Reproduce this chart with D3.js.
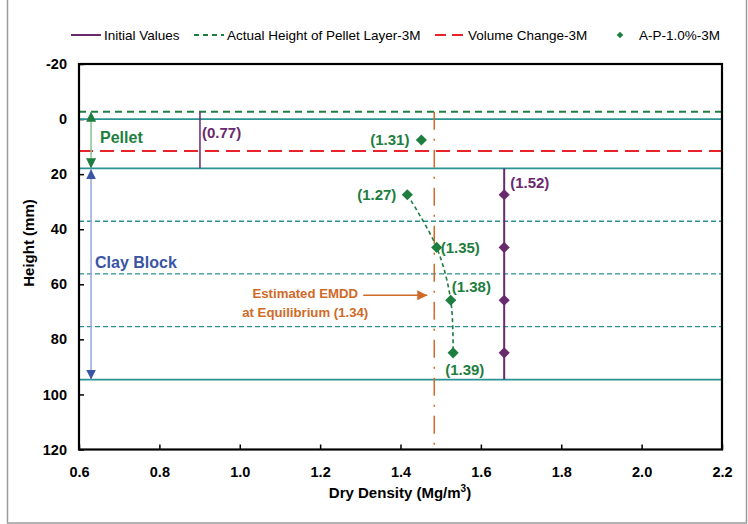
<!DOCTYPE html>
<html lang="en">
<head>
<meta charset="utf-8">
<title>Dry density profile</title>
<script src="https://cdn.jsdelivr.net/npm/d3@7"></script>
<style>
  body { margin: 0; background: #fff; }
  svg text { font-family: "Liberation Sans", Arial, sans-serif; }
</style>
</head>
<body>
<div id="chart"></div>
<script>
// axis ranges and ticks
var xTicks = [0.6, 0.8, 1.0, 1.2, 1.4, 1.6, 1.8, 2.0, 2.2];
var yTicks = [-20, 0, 20, 40, 60, 80, 100, 120];

// layer boundaries (mm)
var pelletTop = -2.7;       // actual height of pellet layer
var pelletBase = 0;
var clayTop = 17.9;
var clayBottom = 94.6;
var clayDivisions = [37.1, 56.25, 75.4];
var volumeChange = 11.6;

// initial values
var initPelletX = 0.901;
var initPelletLabel = "(0.77)";
var initClayX = 1.658;
var initClayDepths = [27.5, 46.6, 65.8, 84.9];
var initClayLabel = "(1.52)";

// A-P-1.0%-3M measured points
var apDepths = [7.6, 27.5, 46.6, 65.8, 84.9];
var apX = [1.452, 1.417, 1.490, 1.525, 1.531];
var apLabels = ["(1.31)", "(1.27)", "(1.35)", "(1.38)", "(1.39)"];

// estimated EMDD at equilibrium
var emddX = 1.484;
var emddArrowDepth = 64;

var legendNames = ["Initial Values", "Actual Height of Pellet Layer-3M", "Volume Change-3M", "A-P-1.0%-3M"];

var purple = "#6a2a6e", green = "#1e7e40", teal = "#2a9292", red = "#e8232a",
    orange = "#d06a28", blue = "#3a55a4";

var width = 748, height = 524;
var svg = d3.select("#chart").append("svg").attr("width", width).attr("height", height);

// outer chart border
svg.append("rect").attr("x", 7.5).attr("y", -5).attr("width", 739).attr("height", 528)
  .attr("fill", "none").attr("stroke", "#9a9a9a").attr("stroke-width", 1.5);

var x = d3.scaleLinear().domain([0.6, 2.2]).range([79, 722]);
var y = d3.scaleLinear().domain([-20, 120]).range([64, 449.5]);

var defs = svg.append("defs");
function marker(id, color) {
  defs.append("marker").attr("id", id).attr("viewBox", "0 0 10 10")
    .attr("refX", 10).attr("refY", 5).attr("markerWidth", 10).attr("markerHeight", 10)
    .attr("markerUnits", "userSpaceOnUse").attr("orient", "auto-start-reverse")
    .append("path").attr("d", "M0,0L10,5L0,10Z").attr("fill", color);
}
marker("arrGreen", green);
marker("arrBlue", blue);
marker("arrOrange", orange);

// axes
var xAxis = d3.axisBottom(x).tickValues(xTicks).tickSize(-5).tickPadding(17).tickFormat(d3.format(".1f"));
var yAxis = d3.axisLeft(y).tickValues(yTicks).tickSize(-5).tickPadding(12)
  .tickFormat(function (d) { return String(d); });

var gx = svg.append("g").attr("transform", "translate(0," + y(120) + ")").call(xAxis);
var gy = svg.append("g").attr("transform", "translate(" + x(0.6) + ",0)").call(yAxis);
[gx, gy].forEach(function (g) {
  g.select(".domain").remove();
  g.selectAll(".tick line").attr("stroke", "#000").attr("stroke-width", 1.5);
  g.selectAll("text").attr("font-size", 14.5).attr("font-weight", "bold").attr("fill", "#000")
    .style("font-family", "'Liberation Sans', Arial, sans-serif");
});

// horizontal layer lines
function hline(v, color, w, dash) {
  svg.append("line").attr("x1", x(0.6)).attr("x2", x(2.2)).attr("y1", y(v)).attr("y2", y(v))
    .attr("stroke", color).attr("stroke-width", w).attr("stroke-dasharray", dash || null);
}
hline(pelletBase, teal, 1.8);
hline(clayTop, teal, 1.8);
hline(clayBottom, teal, 1.8);
clayDivisions.forEach(function (d) { hline(d, teal, 1.3, "5,3"); });
hline(pelletTop, green, 2, "7,5");
hline(volumeChange, red, 2, "14,7");

// EMDD vertical dash-dot line
svg.append("line").attr("x1", x(emddX)).attr("x2", x(emddX)).attr("y1", y(pelletTop)).attr("y2", y(120))
  .attr("stroke", orange).attr("stroke-width", 1.5).attr("stroke-dasharray", "18,9,2,9");

// initial value lines
svg.append("line").attr("x1", x(initPelletX)).attr("x2", x(initPelletX))
  .attr("y1", y(pelletTop)).attr("y2", y(clayTop)).attr("stroke", purple).attr("stroke-width", 1.5);
svg.append("line").attr("x1", x(initClayX)).attr("x2", x(initClayX))
  .attr("y1", y(clayTop)).attr("y2", y(clayBottom)).attr("stroke", purple).attr("stroke-width", 2);

var diamond = d3.symbol().type(d3.symbolSquare).size(62);
svg.selectAll(".initpt").data(initClayDepths).enter().append("path")
  .attr("d", diamond)
  .attr("transform", function (d) { return "translate(" + x(initClayX) + "," + y(d) + ") rotate(45)"; })
  .attr("fill", purple);

// A-P curve
var pts = apDepths.map(function (d, i) { return [apX[i], d]; });
var line = d3.line().x(function (d) { return x(d[0]); }).y(function (d) { return y(d[1]); })
  .curve(d3.curveCatmullRom);
svg.append("path").attr("d", line(pts.slice(1))).attr("fill", "none")
  .attr("stroke", green).attr("stroke-width", 1.6).attr("stroke-dasharray", "4,3");
svg.selectAll(".appt").data(pts).enter().append("path")
  .attr("d", diamond)
  .attr("transform", function (d) { return "translate(" + x(d[0]) + "," + y(d[1]) + ") rotate(45)"; })
  .attr("fill", green);

// data labels
var apOffsets = [[-12, 5, "end"], [-11, 5, "end"], [4, 6, "start"], [1, -8, "start"], [-8, 22, "start"]];
apLabels.forEach(function (t, i) {
  svg.append("text").attr("x", x(apX[i]) + apOffsets[i][0]).attr("y", y(apDepths[i]) + apOffsets[i][1])
    .attr("text-anchor", apOffsets[i][2]).attr("font-size", 15).attr("font-weight", "bold")
    .attr("fill", green).text(t);
});
svg.append("text").attr("x", x(initPelletX) + 2).attr("y", y(7.0))
  .attr("font-size", 15).attr("font-weight", "bold").attr("fill", purple).text(initPelletLabel);
svg.append("text").attr("x", x(initClayX) + 6).attr("y", y(initClayDepths[0]) - 7)
  .attr("font-size", 15).attr("font-weight", "bold").attr("fill", purple).text(initClayLabel);

// layer arrows on left
var ax = x(0.63);
svg.append("line").attr("x1", ax).attr("x2", ax).attr("y1", y(pelletTop)).attr("y2", y(clayTop))
  .attr("stroke", "#86c595").attr("stroke-width", 1.5)
  .attr("marker-start", "url(#arrGreen)").attr("marker-end", "url(#arrGreen)");
svg.append("line").attr("x1", ax).attr("x2", ax).attr("y1", y(clayTop) + 1).attr("y2", y(clayBottom))
  .attr("stroke", "#96a6da").attr("stroke-width", 1.5)
  .attr("marker-start", "url(#arrBlue)").attr("marker-end", "url(#arrBlue)");
svg.append("text").attr("x", ax + 9).attr("y", y(8.8)).attr("font-size", 16).attr("font-weight", "bold")
  .attr("fill", green).text("Pellet");
svg.append("text").attr("x", ax + 4).attr("y", y(54.1)).attr("font-size", 16).attr("font-weight", "bold")
  .attr("fill", blue).text("Clay Block");

// EMDD annotation
var arrowEnd = x(emddX) - 7, arrowStart = arrowEnd - 64;
svg.append("line").attr("x1", arrowStart).attr("x2", arrowEnd)
  .attr("y1", y(emddArrowDepth)).attr("y2", y(emddArrowDepth))
  .attr("stroke", orange).attr("stroke-width", 1.5).attr("marker-end", "url(#arrOrange)");
var etx = arrowStart - 58;
var et = svg.append("text").attr("x", etx).attr("y", y(emddArrowDepth) + 3)
  .attr("text-anchor", "middle").attr("font-size", 13.2).attr("font-weight", "bold").attr("fill", orange);
et.append("tspan").attr("x", etx).text("Estimated EMDD");
et.append("tspan").attr("x", etx).attr("dy", 19).text("at Equilibrium (1.34)");

// plot frame
svg.append("rect").attr("x", x(0.6)).attr("y", y(-20)).attr("width", x(2.2) - x(0.6))
  .attr("height", y(120) - y(-20)).attr("fill", "none").attr("stroke", "#000").attr("stroke-width", 2.2);

// axis titles
var xt = svg.append("text").attr("x", 400).attr("y", 498).attr("text-anchor", "middle")
  .attr("font-size", 15).attr("font-weight", "bold");
xt.append("tspan").text("Dry Density (Mg/m");
xt.append("tspan").attr("font-size", 10).attr("dy", -6).text("3");
xt.append("tspan").attr("dy", 6).text(")");
svg.append("text").attr("transform", "translate(34," + 243 + ") rotate(-90)")
  .attr("text-anchor", "middle").attr("font-size", 15).attr("font-weight", "bold").text("Height (mm)");

// legend
var legendX = [71, 194, 435, 620];
var legendW = [30, 30, 30, 0];
var lg = svg.append("g").attr("transform", "translate(0,35)");
legendNames.forEach(function (n, i) {
  if (i === 0) lg.append("line").attr("x1", legendX[i]).attr("x2", legendX[i] + legendW[i])
    .attr("stroke", purple).attr("stroke-width", 2);
  if (i === 1) lg.append("line").attr("x1", legendX[i]).attr("x2", legendX[i] + legendW[i])
    .attr("stroke", green).attr("stroke-width", 2).attr("stroke-dasharray", "5,4");
  if (i === 2) lg.append("line").attr("x1", legendX[i]).attr("x2", legendX[i] + legendW[i])
    .attr("stroke", red).attr("stroke-width", 2).attr("stroke-dasharray", "11,6");
  if (i === 3) lg.append("path").attr("d", d3.symbol().type(d3.symbolSquare).size(22))
    .attr("transform", "translate(" + legendX[i] + ",0) rotate(45)").attr("fill", green);
  lg.append("text").attr("x", legendX[i] + (i === 3 ? 19 : legendW[i] + 3)).attr("y", 4.5)
    .attr("font-size", 13.5).attr("fill", "#000").text(n);
});
</script>
</body>
</html>
